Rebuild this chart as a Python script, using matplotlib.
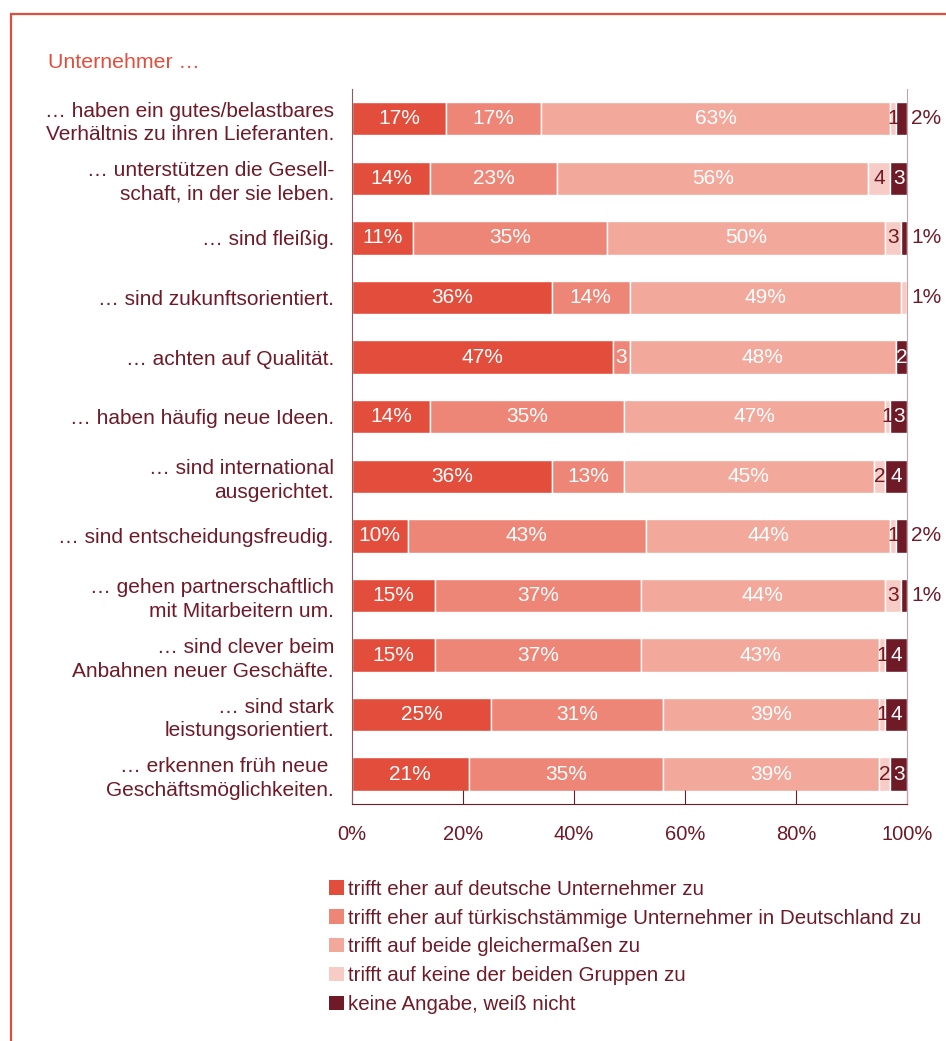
import numpy as np
import matplotlib.pyplot as plt
from matplotlib.patches import Patch, Rectangle

plt.rcParams['font.family'] = ['Liberation Sans', 'DejaVu Sans']

# statements, top to bottom
statements = [
    "… haben ein gutes/belastbares\nVerhältnis zu ihren Lieferanten.",
    "… unterstützen die Gesell-\nschaft, in der sie leben.",
    "… sind fleißig.",
    "… sind zukunftsorientiert.",
    "… achten auf Qualität.",
    "… haben häufig neue Ideen.",
    "… sind international\nausgerichtet.",
    "… sind entscheidungsfreudig.",
    "… gehen partnerschaftlich\nmit Mitarbeitern um.",
    "… sind clever beim\nAnbahnen neuer Geschäfte.",
    "… sind stark\nleistungsorientiert.",
    "… erkennen früh neue \nGeschäftsmöglichkeiten.",
]

answers = [
    "trifft eher auf deutsche Unternehmer zu",
    "trifft eher auf türkischstämmige Unternehmer in Deutschland zu",
    "trifft auf beide gleichermaßen zu",
    "trifft auf keine der beiden Gruppen zu",
    "keine Angabe, weiß nicht",
]

deutsche = [17, 14, 11, 36, 47, 14, 36, 10, 15, 15, 25, 21]
tuerkisch = [17, 23, 35, 14, 3, 35, 13, 43, 37, 37, 31, 35]
beide = [63, 56, 50, 49, 48, 47, 45, 44, 44, 43, 39, 39]
keine = [1, 4, 3, 1, 0, 1, 2, 1, 3, 1, 1, 2]
k_a = [2, 3, 1, 0, 2, 3, 4, 2, 1, 4, 4, 3]

# which segment gets its value written right of the bar (None = all inside)
outside = [4, None, 4, 3, None, None, None, 4, 4, None, None, None]

colors = ["#E34D3B", "#EE8677", "#F2A89B", "#F7CCC6", "#6E1A27"]
maroon = "#6E1A27"

series = np.array([deutsche, tuerkisch, beide, keine, k_a])
y = np.arange(len(statements))

fig = plt.figure(figsize=(9.46, 10.41), dpi=100)
ax = fig.add_axes([0.3721, 0.2277, 0.5867, 0.6868])

left = np.zeros(len(statements))
for i, vals in enumerate(series):
    ax.barh(y, vals, left=left, height=0.56, color=colors[i],
            edgecolor="white", linewidth=1)
    for r, v in enumerate(vals):
        if v == 0:
            continue
        if outside[r] == i:
            ax.text(100.8, r, f"{v}%", ha="left", va="center",
                    color=maroon, fontsize=15)
            continue
        txt = f"{v}%" if v >= 5 else f"{v}"
        tc = maroon if i == 3 else "white"
        ax.text(left[r] + v / 2, r, txt, ha="center", va="center",
                color=tc, fontsize=15)
    left += vals

ax.set_xlim(0, 100)
ax.set_ylim(len(statements) - 0.5, -0.5)
ax.set_yticks(y)
ax.set_yticklabels(statements, fontsize=15, color=maroon,
                   multialignment="right", linespacing=1.3)
ax.tick_params(axis="y", length=0, pad=13)
ax.set_xticks(np.arange(0, 101, 20))
ax.set_xticklabels([f"{t}%" for t in range(0, 101, 20)], fontsize=14.5,
                   color=maroon)
ax.tick_params(axis="x", direction="in", length=10, color=maroon, pad=15)

ax.spines["top"].set_visible(False)
ax.spines["left"].set_color("#8C5A63")
ax.spines["right"].set_color("#C4A3AA")
ax.spines["bottom"].set_color(maroon)

fig.text(0.0507, 0.940, "Unternehmer …", color="#E34D3B", fontsize=15.3,
         va="center")

handles = [Patch(facecolor=c, edgecolor="none") for c in colors]
leg = fig.legend(handles, answers, loc="upper left",
                 bbox_to_anchor=(0.348, 0.155), frameon=False, fontsize=14.8,
                 handlelength=0.7, handleheight=0.7, handletextpad=0.2,
                 labelspacing=0.48, borderaxespad=0, borderpad=0)
for t in leg.get_texts():
    t.set_color(maroon)

# red frame, running off the right and bottom edges
fig.patches.append(Rectangle((11 / 946, -0.05), 1.1, 1 - 14 / 1041 + 0.05,
                             transform=fig.transFigure, fill=False,
                             edgecolor="#E34D3B", linewidth=1.6))

fig.savefig("out.png", dpi=100)
